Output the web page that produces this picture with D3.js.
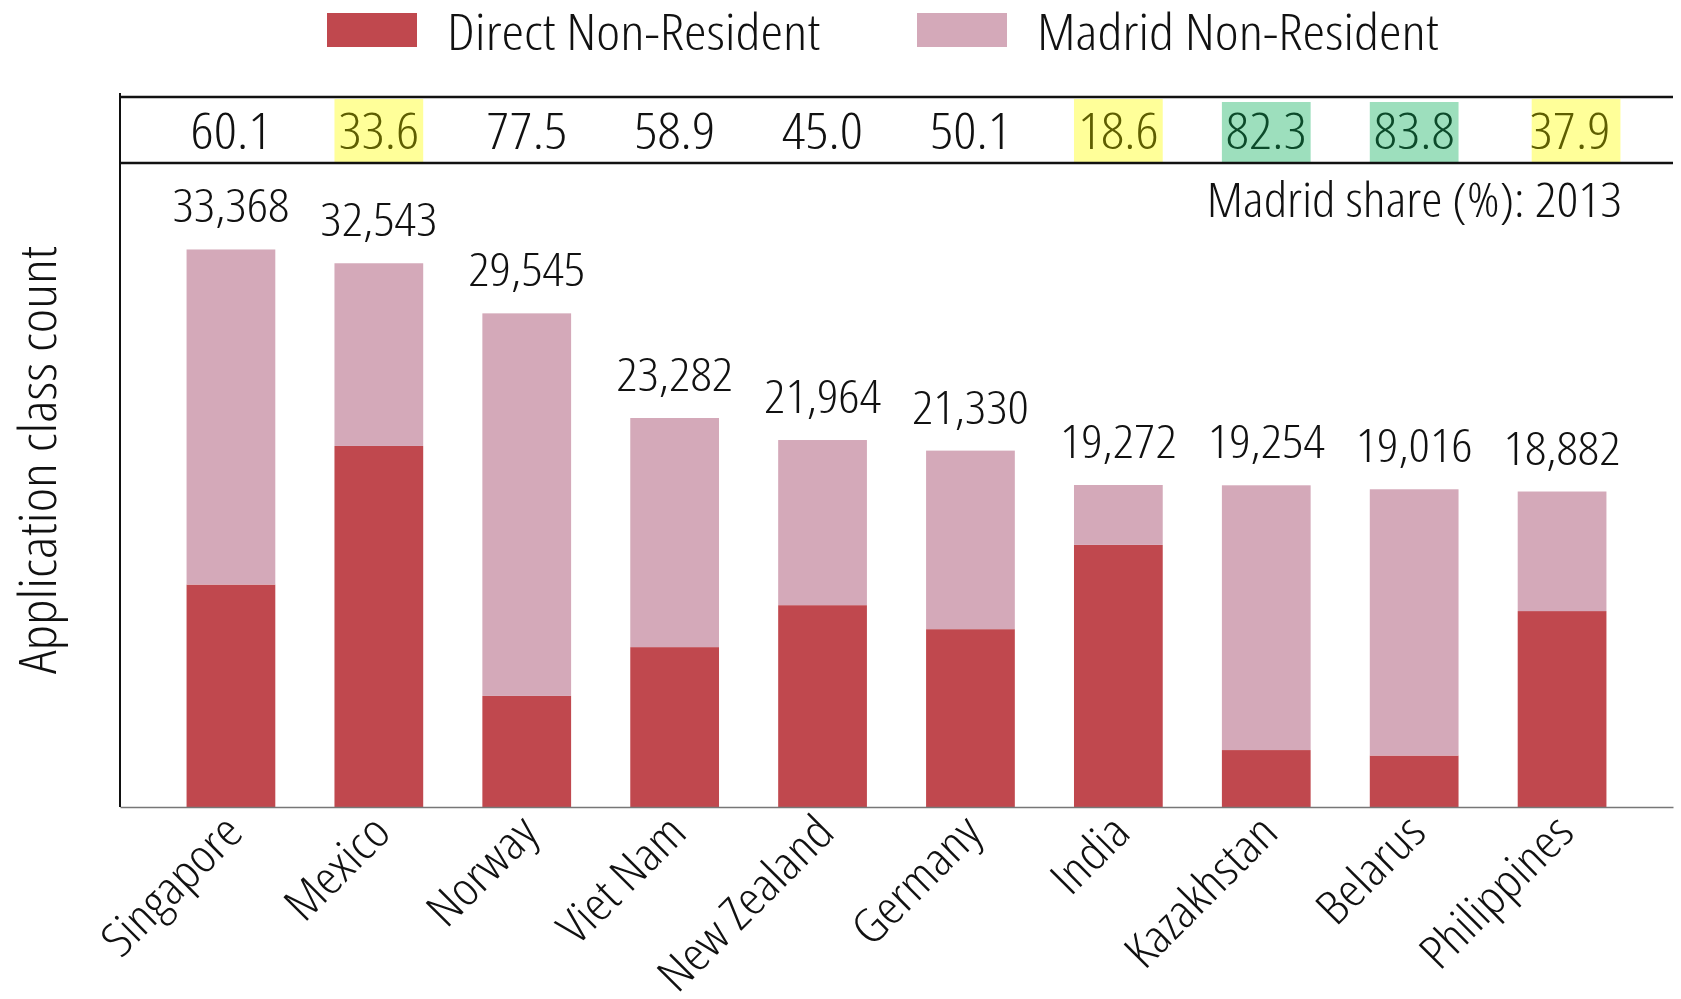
<!DOCTYPE html>
<html>
<head>
<meta charset="utf-8">
<script src="https://cdn.jsdelivr.net/npm/d3@7"></script>
<style>
    body { margin: 0; background: #fff; }
    svg text { font-family: "Open Sans", sans-serif; font-stretch: condensed; font-weight: 300; fill: #111; }
</style>
</head>
<body>
<div id="chart"></div>
<script>
// data
const countries = ["Singapore", "Mexico", "Norway", "Viet Nam", "New Zealand", "Germany", "India", "Kazakhstan", "Belarus", "Philippines"];
const totals = [33368, 32543, 29545, 23282, 21964, 21330, 19272, 19254, 19016, 18882];
const directNonRes = [13314, 21609, 6648, 9569, 12080, 10644, 15687, 3408, 3081, 11726];
const madridNonRes = [20054, 10934, 22897, 13713, 9884, 10686, 3585, 15846, 15935, 7156];
const madridShare = ["60.1", "33.6", "77.5", "58.9", "45.0", "50.1", "18.6", "82.3", "83.8", "37.9"];
// highlight: "low" = yellow, "high" = green, "" = none
const shareFlag = ["", "low", "", "", "", "", "low", "high", "high", "low"];
const seriesNames = ["Direct Non-Resident", "Madrid Non-Resident"];

// condensed font is a bit too narrow, widen it a little
const sx = 1.14;

class stackedBarViz {
    constructor(parentElement) {
        this.parentElement = parentElement;
        this.colors = d3.scaleOrdinal()
            .domain(seriesNames)
            .range(["#c0484e", "#d4a9b9"]);
        this.flagFill = {low: "#ffff99", high: "#9ddfbd"};
        this.flagText = {low: "#5e5e00", high: "#0c4a2a"};
        this.initVis();
    }

    initVis() {
        let vis = this;
        vis.width = 1681;
        vis.height = 999;

        vis.left = 120;
        vis.right = 1673;
        vis.baseline = 807;
        vis.tableTop = 97;
        vis.tableBottom = 163;

        vis.svg = d3.select("#" + vis.parentElement).append("svg")
            .attr("width", vis.width)
            .attr("height", vis.height);

        vis.x = d3.scaleBand()
            .domain(countries)
            .range([vis.left, vis.right])
            .paddingInner(0.4)
            .paddingOuter(0.45);

        vis.y = d3.scaleLinear()
            .domain([0, 38544])
            .range([vis.baseline, vis.tableBottom]);

        vis.data = countries.map((c, i) => ({
            country: c,
            total: totals[i],
            "Direct Non-Resident": directNonRes[i],
            "Madrid Non-Resident": madridNonRes[i],
            share: madridShare[i],
            flag: shareFlag[i]
        }));

        vis.stack = d3.stack().keys(seriesNames)(vis.data);

        vis.drawLegend();
        vis.drawTable();
        vis.updateVis();
    }

    // put text at (x, y) with the horizontal stretch
    place(sel, fx, fy) {
        sel.attr("transform", (d, i) => "translate(" + fx(d, i) + "," + fy(d, i) + ") scale(" + sx + ",1)");
    }

    drawLegend() {
        let vis = this;
        let items = [{name: seriesNames[0], x: 327}, {name: seriesNames[1], x: 917}];
        let g = vis.svg.append("g").attr("class", "legend");
        g.selectAll("rect")
            .data(items)
            .enter().append("rect")
            .attr("x", d => d.x).attr("y", 13)
            .attr("width", 90).attr("height", 34)
            .attr("fill", d => vis.colors(d.name));
        let t = g.selectAll("text")
            .data(items)
            .enter().append("text")
            .attr("font-size", 50)
            .text(d => d.name);
        vis.place(t, d => d.x + 120, () => 50);
    }

    drawTable() {
        let vis = this;
        let g = vis.svg.append("g").attr("class", "share-table");

        // highlight cells
        g.selectAll("rect.cell")
            .data(vis.data.filter(d => d.flag))
            .enter().append("rect")
            .attr("class", "cell")
            .attr("x", d => vis.x(d.country) + (d.country === "Philippines" ? 14 : 0))
            .attr("y", d => d.flag === "high" ? vis.tableTop + 5 : vis.tableTop + 2)
            .attr("width", vis.x.bandwidth())
            .attr("height", d => d.flag === "high" ? vis.tableBottom - vis.tableTop - 6 : vis.tableBottom - vis.tableTop - 3)
            .attr("fill", d => vis.flagFill[d.flag]);

        let shares = g.selectAll("text.share")
            .data(vis.data)
            .enter().append("text")
            .attr("class", "share")
            .attr("text-anchor", "middle")
            .attr("font-size", 50)
            .style("fill", d => d.flag ? vis.flagText[d.flag] : "#111")
            .text(d => d.share);
        vis.place(shares, d => vis.x(d.country) + vis.x.bandwidth() / 2 + (d.country === "Philippines" ? 8 : 0), () => 149);

        // table rules
        [vis.tableTop, vis.tableBottom].forEach(yy => {
            g.append("line")
                .attr("x1", vis.left).attr("x2", vis.right)
                .attr("y1", yy).attr("y2", yy)
                .attr("stroke", "#111").attr("stroke-width", 2.5);
        });

        let note = g.append("text")
            .attr("text-anchor", "end")
            .attr("font-size", 47)
            .text("Madrid share (%): 2013");
        vis.place(note, () => 1622, () => 217);
    }

    updateVis() {
        let vis = this;

        let layers = vis.svg.append("g").selectAll("g.layer")
            .data(vis.stack)
            .enter().append("g")
            .attr("class", "layer")
            .attr("fill", d => vis.colors(d.key));

        layers.selectAll("rect")
            .data(d => d)
            .enter().append("rect")
            .attr("x", d => vis.x(d.data.country))
            .attr("y", d => vis.y(d[1]))
            .attr("width", vis.x.bandwidth())
            .attr("height", d => vis.y(d[0]) - vis.y(d[1]));

        // total labels
        let labels = vis.svg.append("g").selectAll("text.total")
            .data(vis.data)
            .enter().append("text")
            .attr("class", "total")
            .attr("text-anchor", "middle")
            .attr("font-size", 46)
            .text(d => d3.format(",")(d.total));
        vis.place(labels, d => vis.x(d.country) + vis.x.bandwidth() / 2, d => vis.y(d.total) - 27);

        // x axis
        vis.xAxis = d3.axisBottom(vis.x).tickSize(0).tickSizeOuter(0);
        let xg = vis.svg.append("g")
            .attr("class", "x-axis axis")
            .attr("transform", "translate(0," + vis.baseline + ")")
            .call(vis.xAxis);
        xg.select(".domain").attr("stroke", "#777").attr("stroke-width", 1.5);
        xg.selectAll(".tick text")
            .attr("font-size", 47)
            .attr("font-family", null)
            .style("fill", "#111")
            .attr("text-anchor", "end")
            .attr("dy", null)
            .attr("transform", "translate(12,26) rotate(-45) scale(" + sx + ",1)");

        // y axis line only
        vis.svg.append("line")
            .attr("x1", vis.left).attr("x2", vis.left)
            .attr("y1", vis.tableTop - 4).attr("y2", vis.baseline)
            .attr("stroke", "#111").attr("stroke-width", 2);

        vis.svg.append("text")
            .attr("transform", "translate(56,460) rotate(-90) scale(" + sx + ",1)")
            .attr("text-anchor", "middle")
            .attr("font-size", 51)
            .text("Application class count");
    }
}

new stackedBarViz("chart");
</script>
</body>
</html>
